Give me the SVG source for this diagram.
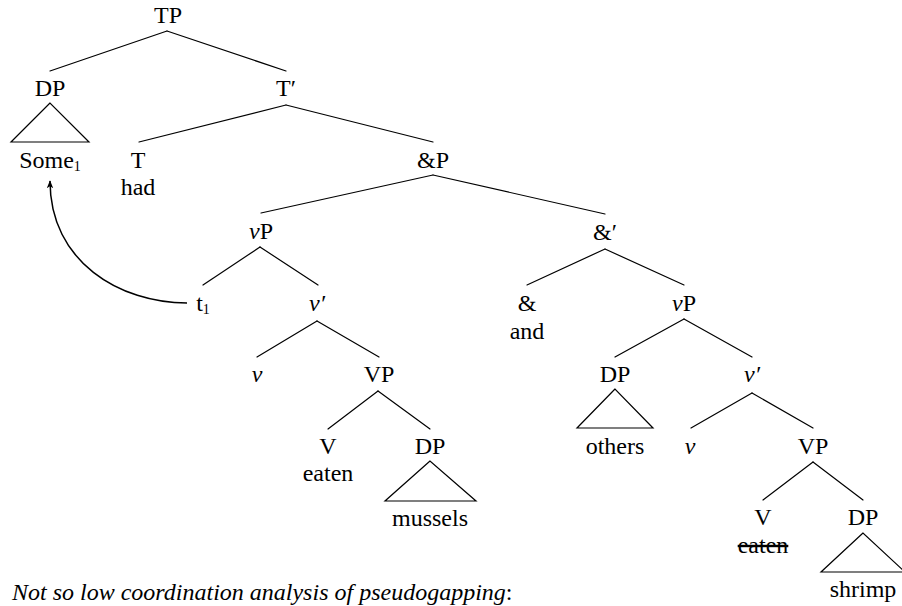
<svg xmlns="http://www.w3.org/2000/svg" width="902" height="606" viewBox="0 0 902 606">
  <style>
    text { font-family: 'Liberation Serif', 'Times New Roman', serif; font-size: 24px; fill: #000; text-anchor: middle; }
    .it { font-style: italic; }
    .sub { font-size: 14px; }
    .edge { stroke: #000; stroke-width: 1.2; fill: none; stroke-linecap: round; }
    .tri { stroke: #000; stroke-width: 1.2; fill: none; stroke-linejoin: miter; }
    .move { stroke: #000; stroke-width: 1.5; fill: none; }
    .caption { text-anchor: start; font-style: italic; }
  </style>
  <defs>
    <marker id="tip" viewBox="0 0 10 10" refX="9" refY="5" markerWidth="8" markerHeight="8" markerUnits="userSpaceOnUse" orient="auto">
      <path d="M0,1 L10,5 L0,9 L2.5,5 Z" fill="#000"/>
    </marker>
  </defs>

  <!-- branches -->
  <g id="connectors">
    <line class="edge" x1="167" y1="31" x2="50" y2="71"/>
    <line class="edge" x1="167" y1="31" x2="286" y2="71"/>
    <line class="edge" x1="286" y1="105" x2="139" y2="142"/>
    <line class="edge" x1="286" y1="105" x2="433" y2="142"/>
    <line class="edge" x1="433" y1="175" x2="261" y2="213"/>
    <line class="edge" x1="433" y1="175" x2="605" y2="214"/>
    <line class="edge" x1="260" y1="247" x2="203" y2="285"/>
    <line class="edge" x1="260" y1="247" x2="318" y2="285"/>
    <line class="edge" x1="605" y1="249" x2="527" y2="285"/>
    <line class="edge" x1="605" y1="249" x2="684" y2="285"/>
    <line class="edge" x1="317" y1="321" x2="257" y2="357"/>
    <line class="edge" x1="317" y1="321" x2="379" y2="357"/>
    <line class="edge" x1="684" y1="319" x2="615" y2="357"/>
    <line class="edge" x1="684" y1="319" x2="752" y2="357"/>
    <line class="edge" x1="378" y1="391" x2="328" y2="429"/>
    <line class="edge" x1="378" y1="391" x2="430" y2="429"/>
    <line class="edge" x1="752" y1="393" x2="691" y2="428"/>
    <line class="edge" x1="752" y1="393" x2="813" y2="428"/>
    <line class="edge" x1="813" y1="462" x2="763" y2="500"/>
    <line class="edge" x1="813" y1="462" x2="863" y2="500"/>
    <!-- movement arrow from the trace up to its antecedent -->
    <path class="move" d="M187,303 C120,303 50,262 50,181" marker-end="url(#tip)"/>
  </g>

  <g id="TP"><text x="168" y="23">TP</text></g>
  <g id="DP-subject">
    <text x="50" y="96">DP</text>
    <polygon class="tri" points="50,103 11,142 89,142"/>
    <text x="50" y="168">Some<tspan class="sub" dy="3">1</tspan></text>
  </g>
  <g id="T-bar"><text x="286" y="96">T′</text></g>
  <g id="T">
    <text x="138" y="168">T</text>
    <text x="138" y="195">had</text>
  </g>
  <g id="andP"><text x="433" y="168">&amp;P</text></g>
  <g id="vP-1"><text x="261" y="239"><tspan class="it">v</tspan>P</text></g>
  <g id="and-bar"><text x="605" y="240">&amp;′</text></g>
  <g id="trace"><text x="203" y="311">t<tspan class="sub" dy="3">1</tspan></text></g>
  <g id="v-bar-1"><text x="317" y="311" class="it">v′</text></g>
  <g id="and">
    <text x="527" y="311">&amp;</text>
    <text x="527" y="339">and</text>
  </g>
  <g id="vP-2"><text x="684" y="311"><tspan class="it">v</tspan>P</text></g>
  <g id="v-1"><text x="257" y="382" class="it">v</text></g>
  <g id="VP-1"><text x="379" y="382">VP</text></g>
  <g id="DP-others">
    <text x="615" y="382">DP</text>
    <polygon class="tri" points="615,389 577,428 653,428"/>
    <text x="615" y="454">others</text>
  </g>
  <g id="v-bar-2"><text x="752" y="382" class="it">v′</text></g>
  <g id="V-1">
    <text x="328" y="454">V</text>
    <text x="328" y="481">eaten</text>
  </g>
  <g id="DP-mussels">
    <text x="430" y="454">DP</text>
    <polygon class="tri" points="430,461 385,501 476,501"/>
    <text x="430" y="526">mussels</text>
  </g>
  <g id="v-2"><text x="690" y="454" class="it">v</text></g>
  <g id="VP-2"><text x="813" y="454">VP</text></g>
  <g id="V-2">
    <text x="763" y="525">V</text>
    <text x="763" y="553" text-decoration="line-through">eaten</text>
  </g>
  <g id="DP-shrimp">
    <text x="863" y="525">DP</text>
    <polygon class="tri" points="863,533 821,572 905,572"/>
    <text x="863" y="597">shrimp</text>
  </g>

  <text class="caption" x="12" y="600">Not so low coordination analysis of pseudogapping<tspan font-style="normal">:</tspan></text>
</svg>
